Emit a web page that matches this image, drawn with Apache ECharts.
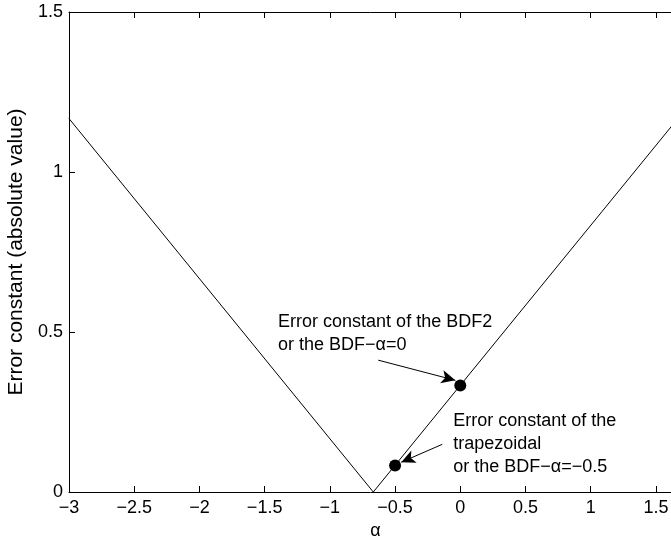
<!DOCTYPE html>
<html>
<head>
<meta charset="utf-8">
<script src="https://cdn.jsdelivr.net/npm/echarts@6/dist/echarts.min.js"></script>
<style>
    html, body { margin: 0; padding: 0; background: #fff; }
    #echart { width: 671px; height: 542px; }
</style>
</head>
<body>
<div id="echart"></div>
<script>
// 曲线的数据
var lineAlpha = [-3, -0.667, 1.7];
var lineErr = [1.167, 0, 1.183];

// 两个标记点
var dotAlpha = [0, -0.5];
var dotErr = [0.333, 0.083];

// 注释文字及位置（数据坐标）
var noteText = [
    'Error constant of the BDF2\nor the BDF\u2212\u03b1=0',
    'Error constant of the\ntrapezoidal\nor the BDF\u2212\u03b1=\u22120.5'
];
var noteAt = [[-1.397, 0.495], [-0.054, 0.149]];

// 箭头（起点 -> 终点）
var arrowFrom = [[-0.629, 0.412], [-0.138, 0.149]];
var arrowTo = [[-0.038, 0.349], [-0.453, 0.093]];

var font = '"Liberation Sans", Arial, sans-serif';

(function () {
    var myChart = echarts.init(document.getElementById('echart'));

    var linePts = [];
    for (var i = 0; i < lineAlpha.length; i++) {
        linePts.push([lineAlpha[i], lineErr[i]]);
    }
    var dots = [];
    for (var j = 0; j < dotAlpha.length; j++) {
        dots.push([dotAlpha[j], dotErr[j]]);
    }
    var notes = [];
    for (var k = 0; k < noteText.length; k++) {
        notes.push({coord: noteAt[k], label: {formatter: noteText[k]}});
    }
    var arrows = [];
    for (var m = 0; m < arrowFrom.length; m++) {
        arrows.push([{coord: arrowFrom[m]}, {coord: arrowTo[m]}]);
    }

    var minusFmt = function (v) {
        return String(v).replace('-', '\u2212');
    };

    var option = {
        animation: false,
        backgroundColor: '#fff',
        textStyle: {fontFamily: font},
        grid: {left: 69, right: -11, top: 12, bottom: 50, outerBoundsMode: 'none', containLabel: false},
        xAxis: [
            {
                type: 'value',
                min: -3,
                max: 1.7,
                interval: 0.5,
                position: 'bottom',
                name: '\u03b1',
                nameLocation: 'middle',
                nameGap: 29,
                nameTextStyle: {color: '#000', fontSize: 18, fontFamily: font},
                axisLine: {onZero: false, lineStyle: {color: '#000', width: 1}},
                axisTick: {inside: true, length: 6, lineStyle: {color: '#000'}},
                axisLabel: {color: '#000', fontSize: 18, margin: 7, fontFamily: font,
                    showMaxLabel: false, formatter: minusFmt},
                splitLine: {show: false}
            },
            {
                type: 'value',
                min: -3,
                max: 1.7,
                interval: 0.5,
                position: 'top',
                axisLine: {onZero: false, lineStyle: {color: '#000', width: 1}},
                axisTick: {inside: true, length: 6, lineStyle: {color: '#000'}},
                axisLabel: {show: false},
                splitLine: {show: false}
            }
        ],
        yAxis: {
            type: 'value',
            min: 0,
            max: 1.5,
            interval: 0.5,
            name: 'Error constant (absolute value)',
            nameLocation: 'middle',
            nameGap: 35,
            nameTextStyle: {color: '#000', fontSize: 21, fontFamily: font},
            axisLine: {show: true, onZero: false, lineStyle: {color: '#000', width: 1}},
            axisTick: {show: true, inside: true, length: 6, lineStyle: {color: '#000'}},
            axisLabel: {color: '#000', fontSize: 18, margin: 6, fontFamily: font},
            splitLine: {show: false}
        },
        series: [
            {
                type: 'line',
                data: linePts,
                symbol: 'none',
                lineStyle: {color: '#000', width: 1},
                silent: true,
                markLine: {
                    silent: true,
                    symbol: ['none', 'arrow'],
                    symbolSize: [10, 14],
                    lineStyle: {color: '#000', width: 1, type: 'solid'},
                    label: {show: false},
                    data: arrows
                },
                markPoint: {
                    silent: true,
                    symbol: 'circle',
                    symbolSize: 0,
                    label: {
                        show: true,
                        position: 'right',
                        distance: 0,
                        color: '#000',
                        fontSize: 18,
                        lineHeight: 23,
                        fontFamily: font,
                        align: 'left',
                        verticalAlign: 'middle'
                    },
                    data: notes
                }
            },
            {
                type: 'scatter',
                data: dots,
                symbol: 'circle',
                symbolSize: 12,
                itemStyle: {color: '#000', opacity: 1},
                silent: true
            }
        ]
    };
    myChart.setOption(option);
})();
</script>
</body>
</html>
